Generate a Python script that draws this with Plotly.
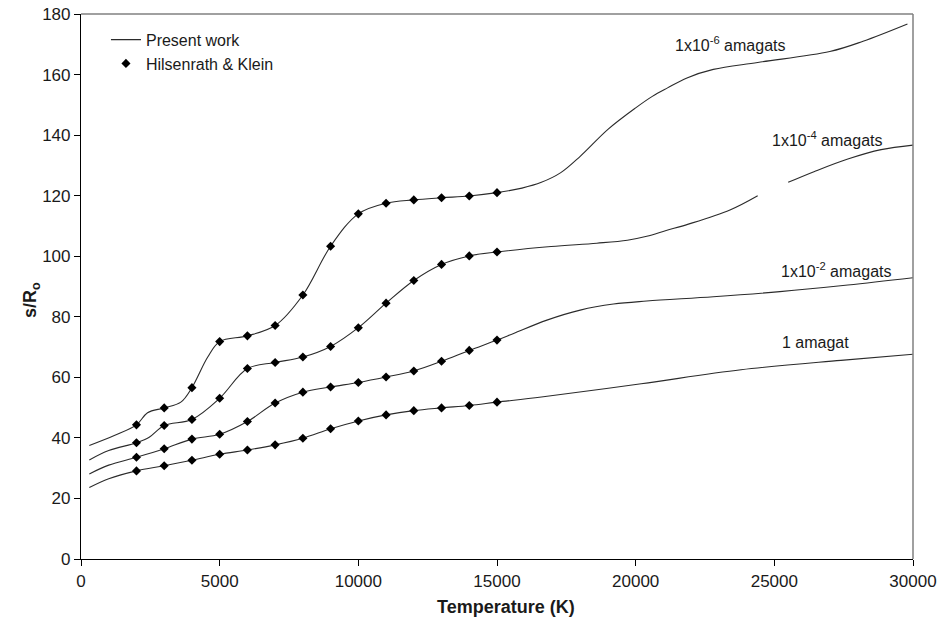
import plotly.graph_objects as go

# ---- data ----
marker_T = [2000, 3000, 4000, 5000, 6000, 7000, 8000, 9000, 10000, 11000, 12000, 13000, 14000, 15000]

hk_1e6 = [44.3, 49.9, 56.6, 71.8, 73.7, 77.1, 87.2, 103.3, 114.0, 117.5, 118.6, 119.3, 119.9, 121.0]
hk_1e4 = [38.4, 44.1, 46.1, 53.1, 62.9, 64.9, 66.7, 70.2, 76.4, 84.5, 92.0, 97.3, 100.1, 101.4]
hk_1e2 = [33.6, 36.4, 39.6, 41.2, 45.4, 51.5, 55.1, 56.8, 58.3, 60.1, 62.1, 65.3, 68.9, 72.3]
hk_1 = [29.1, 30.8, 32.6, 34.6, 36.0, 37.7, 39.9, 43.0, 45.6, 47.6, 49.0, 49.9, 50.7, 51.8]

pw_1e6_T = [300, 1200, 2000, 2400, 3000, 3600, 4000, 4570, 5000, 6000, 7000, 8000, 9000, 10000,
            11000, 12000, 13000, 14000, 15000, 15900, 16600, 17300, 18000, 19000, 20000, 20600,
            21150, 21850, 22800, 24400, 27000, 28200, 29800]
pw_1e6_s = [37.5, 40.8, 44.3, 48.3, 49.9, 51.8, 56.6, 66.7, 71.8, 73.7, 77.1, 87.2, 103.3, 114.0,
            117.5, 118.6, 119.3, 119.9, 121.0, 122.5, 124.4, 127.6, 133.0, 141.9, 149.0, 152.8,
            155.6, 158.9, 161.7, 164.0, 167.6, 171.0, 176.7]

pw_1e4_T = [300, 1000, 2000, 2460, 3000, 4000, 5000, 6000, 7000, 8000, 9000, 10000, 11000, 12000,
            13000, 14000, 15000, 16950, 18600, 19700, 20400, 21100, 21900, 23400, 24400, None,
            25500, 26450, 27650, 28850, 30000]
pw_1e4_s = [32.7, 35.8, 38.4, 40.2, 44.1, 46.1, 53.1, 62.9, 64.9, 66.7, 70.2, 76.4, 84.5, 92.0,
            97.3, 100.1, 101.4, 103.2, 104.3, 105.3, 106.6, 108.5, 110.6, 115.3, 120.0, None,
            124.4, 128.0, 132.1, 135.2, 136.7]

pw_1e2_T = [300, 1000, 2000, 3000, 4000, 5000, 6000, 7000, 8000, 9000, 10000, 11000, 12000, 13000,
            14000, 15000, 15600, 16800, 18000, 19200, 20400, 22800, 25200, 27650, 30000]
pw_1e2_s = [28.1, 31.0, 33.6, 36.4, 39.6, 41.2, 45.4, 51.5, 55.1, 56.8, 58.3, 60.1, 62.1, 65.3,
            68.9, 72.3, 74.5, 78.9, 82.2, 84.2, 85.2, 86.6, 88.3, 90.5, 92.9]

pw_1_T = [300, 1000, 2000, 3000, 4000, 5000, 6000, 7000, 8000, 9000, 10000, 11000, 12000, 13000,
          14000, 15000, 16600, 20200, 23800, 27400, 30000]
pw_1_s = [23.6, 26.5, 29.1, 30.8, 32.6, 34.6, 36.0, 37.7, 39.9, 43.0, 45.6, 47.6, 49.0, 49.9,
          50.7, 51.8, 53.5, 57.9, 62.5, 65.6, 67.6]

labels = ["1x10<sup>-6</sup> amagats", "1x10<sup>-4</sup> amagats",
          "1x10<sup>-2</sup> amagats", "1 amagat"]
label_T = [23400, 26900, 27220, 26470]
label_s = [170.0, 138.6, 95.4, 71.6]

x_ticks = [0, 5000, 10000, 15000, 20000, 25000, 30000]
y_ticks = [0, 20, 40, 60, 80, 100, 120, 140, 160, 180]

FONT = "Liberation Sans, Arial, sans-serif"
LINE_COLOR = "#2b2b2b"
TXT = "#1a1a1a"

W, H = 941, 625
ML, MR, MT, MB = 81, 28, 14, 66
PW, PH = W - ML - MR, H - MT - MB

fig = go.Figure()

curves = [(pw_1e6_T, pw_1e6_s), (pw_1e4_T, pw_1e4_s), (pw_1e2_T, pw_1e2_s), (pw_1_T, pw_1_s)]
for i, (tx, sy) in enumerate(curves):
    fig.add_trace(go.Scatter(
        x=tx, y=sy, mode="lines", name="Present work",
        line=dict(color=LINE_COLOR, width=1.1, shape="spline", smoothing=1.0),
        connectgaps=False, showlegend=(i == 0), hoverinfo="skip"))

for i, hk in enumerate([hk_1e6, hk_1e4, hk_1e2, hk_1]):
    fig.add_trace(go.Scatter(
        x=marker_T, y=hk, mode="markers", name="Hilsenrath &amp; Klein",
        marker=dict(symbol="diamond", size=7, color="black"),
        showlegend=(i == 0)))

for txt, tx, sy in zip(labels, label_T, label_s):
    fig.add_annotation(x=tx, y=sy, text=txt, showarrow=False,
                       font=dict(family=FONT, size=16, color=TXT),
                       xanchor="center", yanchor="middle")

# axis titles placed as annotations (pixel positions converted to paper coords)
fig.add_annotation(xref="paper", yref="paper",
                   x=(506 - ML) / PW, y=-(607 - (MT + PH)) / PH,
                   text="<b>Temperature (K)</b>", showarrow=False,
                   font=dict(family=FONT, size=18, color=TXT),
                   xanchor="center", yanchor="middle")
fig.add_annotation(xref="paper", yref="paper",
                   x=-(ML - 31) / PW, y=1 - (300 - MT) / PH,
                   text="<b>s/R<sub>o</sub></b>", showarrow=False, textangle=-90,
                   font=dict(family=FONT, size=18, color=TXT),
                   xanchor="center", yanchor="middle")

fig.update_layout(
    width=W, height=H,
    margin=dict(l=ML, r=MR, t=MT, b=MB, autoexpand=False),
    paper_bgcolor="white", plot_bgcolor="white",
    font=dict(family=FONT, size=16, color=TXT),
    legend=dict(x=0.03, y=0.984, xanchor="left", yanchor="top",
                bgcolor="rgba(0,0,0,0)", font=dict(family=FONT, size=16, color=TXT),
                itemwidth=30, tracegroupgap=0),
    shapes=[
        dict(type="line", xref="paper", yref="paper", x0=0, x1=1, y0=1, y1=1,
             line=dict(color="#808080", width=1.5)),
        dict(type="line", xref="paper", yref="paper", x0=1, x1=1, y0=0, y1=1,
             line=dict(color="#808080", width=1.5)),
    ],
)

fig.update_xaxes(
    range=[0, 30000], tickvals=x_ticks, ticktext=[str(v) for v in x_ticks],
    automargin=False,
    showgrid=False, zeroline=False, showline=True, linecolor="black", linewidth=1.2,
    ticks="outside", ticklen=6, tickcolor="black",
    tickfont=dict(family=FONT, size=17, color=TXT))

fig.update_yaxes(
    range=[0, 180], tickvals=y_ticks, ticktext=[str(v) for v in y_ticks],
    automargin=False,
    showgrid=False, zeroline=False, showline=True, linecolor="black", linewidth=1.2,
    ticks="outside", ticklen=6, tickcolor="black",
    tickfont=dict(family=FONT, size=17, color=TXT))

fig.write_html("out.html")
